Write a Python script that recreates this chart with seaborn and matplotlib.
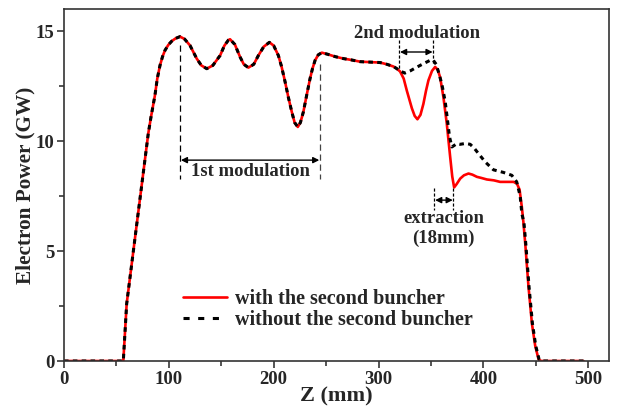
import matplotlib
matplotlib.use("Agg")
import matplotlib.pyplot as plt
import seaborn as sns
import pandas as pd

# ---- data ----
z_common = [0, 56.6, 59.8, 65, 70, 75, 80.4, 83, 86.8, 89, 91.6, 94, 96.4, 99.5, 102.7, 106.5,
            110.7, 115, 120.2, 123.5, 126.6, 131, 136.2, 142, 148.9, 153, 156.8, 158.4, 163, 168,
            171.5, 175.9, 181, 185.4, 190.5, 195.9, 200, 204.5, 207.5, 210.9, 214, 217.3, 220, 223,
            225.5, 228.3, 231.5, 234.7, 237, 239.5, 242.5, 245.9, 252, 258.6, 266.5, 274, 282.4,
            292, 301.5, 308, 314.2, 317.5]
p_common = [0, 0, 2.6, 4.56, 6.44, 8.32, 10.35, 11.1, 12.1, 12.85, 13.45, 13.85, 14.14, 14.38, 14.55, 14.68,
            14.76, 14.65, 14.36, 14.05, 13.76, 13.45, 13.3, 13.45, 13.9, 14.35, 14.6, 14.64, 14.4, 13.83,
            13.5, 13.35, 13.5, 13.9, 14.3, 14.5, 14.35, 13.9, 13.4, 12.7, 12.0, 11.33, 10.85, 10.65,
            10.85, 11.33, 12.1, 12.85, 13.3, 13.68, 13.93, 14.03, 13.95, 13.85, 13.76, 13.7, 13.62,
            13.6, 13.58, 13.5, 13.4, 13.3]

z_with_tail = [320.6, 324, 327, 331.8, 334.5, 337.1, 340, 342.8, 345.3, 347.6, 351, 354, 356.5, 358.8,
               361.9, 365.1, 368.3, 370.3, 372.1, 374.5, 377.9, 381.5, 385.8, 389.5, 393.8, 398, 403.3,
               410, 416, 422, 428.8, 432, 434.5, 436.7, 438.2, 440, 443, 446.3, 449.4, 452.6, 455, 495.5]
p_with_tail = [13.17, 12.85, 12.3, 11.5, 11.15, 11.0, 11.2, 11.7, 12.3, 12.77, 13.2, 13.38, 13.25, 12.9,
               12.0, 10.8, 9.3, 8.4, 7.9, 8.05, 8.3, 8.45, 8.53, 8.48, 8.38, 8.33, 8.26,
               8.22, 8.15, 8.15, 8.15, 8.07, 7.8, 7.0, 6.3, 5.3, 3.4, 1.7, 0.7, 0.08, 0, 0]

z_without_tail = [320.6, 325, 330.2, 335, 339.7, 344.5, 349.2, 352, 355, 357.5, 360.4, 363.6, 365.8,
                  367.7, 370, 374.7, 377.9, 383, 387.4, 391, 395.3, 401.7, 409.6, 419.2, 427.1, 431.8,
                  435.1, 436.7, 438.7, 440.5, 443.5, 446.8, 449.9, 453.1, 455.5, 495.5]
p_without_tail = [13.2, 13.1, 13.2, 13.33, 13.45, 13.57, 13.68, 13.7, 13.5, 13.1, 12.6, 11.8, 10.95,
                  10.2, 9.74, 9.89, 9.86, 9.9, 9.86, 9.7, 9.44, 9.06, 8.7, 8.58, 8.45, 8.15,
                  7.5, 6.7, 6.3, 5.3, 3.4, 1.7, 0.7, 0.08, 0, 0]

label_with = "with the second buncher"
label_without = "without the second buncher"
x_ticks = [0, 100, 200, 300, 400, 500]
y_ticks = [0, 5, 10, 15]

df_with = pd.DataFrame({"z": z_common + z_with_tail, "p": p_common + p_with_tail})
df_without = pd.DataFrame({"z": z_common + z_without_tail, "p": p_common + p_without_tail})

sns.set_style("ticks")
plt.rcParams['font.family'] = ['Liberation Serif', 'DejaVu Serif']
plt.rcParams['font.weight'] = 'bold'

fig = plt.figure(figsize=(6.21, 4.07), dpi=100)
ax = fig.add_axes([0.103, 0.113, 0.878, 0.864])

sns.lineplot(data=df_with, x="z", y="p", ax=ax, color="#ff0000", lw=1.9, sort=False,
             estimator=None, label=label_with)
sns.lineplot(data=df_without, x="z", y="p", ax=ax, color="black", lw=2.2, sort=False,
             estimator=None, label=label_without, linestyle=(0, (1.5, 1.4)))

ax.set_xlim(0, 520)
ax.set_ylim(0, 16)
ax.set_xticks(x_ticks)
ax.set_yticks(y_ticks)
ax.set_xticks([50, 150, 250, 350, 450], minor=True)
ax.set_yticks([2.5, 7.5, 12.5], minor=True)
ax.tick_params(axis='both', which='major', direction='out', length=5, width=1.1, labelsize=13.5, pad=2)
ax.tick_params(axis='both', which='minor', direction='out', length=3.5, width=1.1)
for lab in ax.get_xticklabels() + ax.get_yticklabels():
    lab.set_fontweight('bold')
for s in ax.spines.values():
    s.set_visible(True)
    s.set_linewidth(1.2)
    s.set_color('#333333')

ax.set_xlabel("Z (mm)", fontsize=16, fontweight='bold', labelpad=-1)
ax.set_ylabel("Electron Power (GW)", fontsize=15.3, fontweight='bold', labelpad=0)

leg = ax.legend(loc='upper left', bbox_to_anchor=(0.218, 0.205), frameon=False,
                prop={'size': 14.5, 'weight': 'bold'}, handlelength=2.2, handletextpad=0.4,
                labelspacing=0.05, borderaxespad=0, borderpad=0)
leg.get_lines()[1].set_linestyle((0, (2.0, 2.8)))

# ---- annotations ----
arrow = dict(arrowstyle='<|-|>', lw=1.0, color='black', mutation_scale=9, shrinkA=0, shrinkB=0)
ax.plot([110.7, 110.7], [14.36, 8.3], color='black', lw=0.9, ls=(0, (5, 3)))
ax.plot([244.3, 244.3], [13.5, 8.3], color='#444444', lw=0.9, ls=(0, (5, 3)))
ax.annotate("", xy=(111.5, 9.14), xytext=(243.5, 9.14), arrowprops=arrow)
ax.text(177.5, 8.62, "1st modulation", ha='center', va='center', fontsize=13.4, fontweight='bold')

ax.plot([319.7, 319.7], [14.6, 13.3], color='black', lw=0.9, ls=(0, (2.5, 1.5)))
ax.plot([352.4, 352.4], [14.6, 13.5], color='black', lw=0.9, ls=(0, (2.5, 1.5)))
ax.annotate("", xy=(320.5, 14.06), xytext=(351.6, 14.06), arrowprops=arrow)
ax.text(336.5, 14.9, "2nd modulation", ha='center', va='center', fontsize=13.4, fontweight='bold')

ax.plot([353.3, 353.3], [7.86, 6.86], color='black', lw=0.9, ls=(0, (2.5, 1.5)))
ax.plot([371.5, 371.5], [7.86, 6.86], color='black', lw=0.9, ls=(0, (2.5, 1.5)))
ax.annotate("", xy=(354, 7.32), xytext=(370.8, 7.32), arrowprops=arrow)
ax.text(362, 6.48, "extraction", ha='center', va='center', fontsize=13.4, fontweight='bold')
ax.text(362, 5.58, "(18mm)", ha='center', va='center', fontsize=13.4, fontweight='bold')

fig.savefig("out.png", dpi=100)
